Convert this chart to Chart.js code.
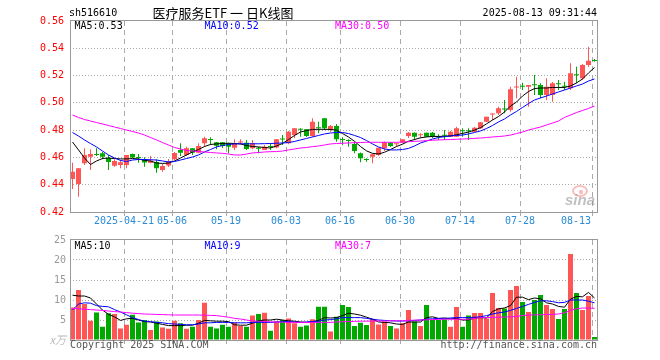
<!DOCTYPE html>
<html><head><meta charset="utf-8">
<script src="https://cdn.jsdelivr.net/npm/chart.js@4.4.0/dist/chart.umd.min.js"></script>
<style>
html,body{margin:0;padding:0;background:#fff;overflow:hidden;}
#wrap{position:relative;width:660px;height:360px;background:#fff;}
#p{position:absolute;left:0;top:0;}
#v{position:absolute;left:0;top:228px;}
</style></head><body>
<div id="wrap"><canvas id="p" width="660" height="235"></canvas><canvas id="v" width="660" height="132"></canvas></div>
<script>
// ---------- data ----------
const opens = [
.4442,.4405,.4557,.4605,.4621,.4630,.4596,.4539,.4545,.4545,
.4625,.4601,.4586,.4561,.4567,.4508,.4541,.4586,.4654,.4618,
.4667,.4635,.4704,.4731,.4711,.4711,.4704,.4671,.4709,.4708,
.4667,.4669,.4655,.4679,.4673,.4735,.4704,.4764,.4808,.4806,
.4757,.4819,.4887,.4806,.4830,.4731,.4724,.4698,.4630,.4583,
.4605,.4618,.4667,.4708,.4696,.4708,.4757,.4781,.4762,.4781,
.4781,.4755,.4764,.4752,.4752,.4796,.4796,.4789,.4813,.4862,
.4915,.4923,.4955,.4948,.5113,.5121,.5118,.5133,.5131,.5058,
.5058,.5140,.5121,.5107,.5206,.5180,.5278,.5311];
const highs = [
.4561,.4522,.4667,.4658,.4667,.4640,.4618,.4586,.4581,.4618,
.4628,.4625,.4601,.4610,.4586,.4552,.4588,.4640,.4704,.4679,
.4669,.4704,.4752,.4748,.4713,.4713,.4708,.4733,.4733,.4728,
.4728,.4679,.4691,.4704,.4735,.4764,.4794,.4816,.4813,.4808,
.4887,.4862,.4889,.4838,.4845,.4748,.4733,.4715,.4636,.4594,
.4625,.4671,.4717,.4713,.4708,.4735,.4786,.4782,.4777,.4782,
.4786,.4770,.4801,.4794,.4825,.4813,.4813,.4823,.4860,.4899,
.4923,.4972,.5021,.5118,.5192,.5148,.5131,.5204,.5143,.5180,
.5153,.5168,.5155,.5290,.5265,.5285,.5412,.5322];
const lows = [
.4369,.4312,.4545,.4508,.4610,.4586,.4508,.4532,.4520,.4520,
.4596,.4561,.4532,.4557,.4488,.4495,.4530,.4581,.4610,.4613,
.4618,.4630,.4679,.4691,.4660,.4669,.4630,.4655,.4696,.4655,
.4660,.4630,.4655,.4655,.4667,.4691,.4696,.4742,.4752,.4750,
.4752,.4777,.4801,.4789,.4715,.4691,.4679,.4630,.4564,.4569,
.4557,.4613,.4647,.4676,.4679,.4704,.4742,.4728,.4740,.4750,
.4742,.4728,.4728,.4750,.4750,.4752,.4728,.4786,.4808,.4860,
.4874,.4911,.4923,.4935,.5033,.5094,.4972,.5058,.5033,.5021,
.5009,.5094,.5094,.5094,.5143,.5168,.5265,.5302];
const closes = [
.4495,.4520,.4618,.4625,.4618,.4605,.4567,.4574,.4564,.4618,
.4600,.4596,.4563,.4576,.4520,.4537,.4570,.4632,.4635,.4667,
.4635,.4684,.4740,.4728,.4686,.4684,.4679,.4704,.4713,.4662,
.4704,.4664,.4679,.4676,.4733,.4731,.4789,.4813,.4803,.4757,
.4862,.4813,.4813,.4830,.4733,.4728,.4720,.4647,.4594,.4581,
.4623,.4671,.4711,.4684,.4698,.4733,.4781,.4752,.4764,.4752,
.4752,.4750,.4759,.4789,.4813,.4792,.4792,.4818,.4857,.4899,
.4918,.4960,.4951,.5100,.5116,.5118,.5131,.5129,.5058,.5118,
.5143,.5136,.5118,.5217,.5202,.5278,.5309,.5307];
const volumes = [
8.1,12.5,9.0,4.8,6.9,3.3,6.7,6.5,2.9,3.8,
6.3,4.4,5.0,2.5,4.6,3.1,2.8,4.8,4.2,2.8,
3.3,5.0,9.3,3.3,2.9,3.8,3.3,4.4,3.5,3.3,
6.1,6.5,6.8,2.3,4.6,5.0,5.4,4.2,3.3,3.6,
5.2,8.3,8.3,2.1,5.8,8.75,8.25,3.5,4.3,3.75,
5.25,3.9,4.6,3.5,2.9,4.2,7.5,4.6,3.5,8.75,
5.0,5.0,5.2,3.3,8.25,3.3,6.1,6.75,6.75,5.4,
11.75,8.0,7.9,12.5,13.5,9.5,7.0,10.0,11.25,8.75,
7.75,5.25,7.75,21.5,11.75,7.5,11.0,0.75];
const ma5 = [
.4713,.4655,.4596,.4548,.4574,.4592,.4596,.4592,.4589,.4589,
.4592,.4589,.4578,.4574,.4559,.4556,.4559,.4574,.4596,.4618,
.4640,.4658,.4680,.4695,.4699,.4702,.4704,.4702,.4699,.4687,
.4680,.4677,.4673,.4669,.4684,.4702,.4731,.4761,.4786,.4797,
.4805,.4806,.4806,.4805,.4800,.4775,.4750,.4718,.4680,.4648,
.4630,.4625,.4638,.4658,.4680,.4697,.4719,.4731,.4744,.4750,
.4754,.4754,.4755,.4758,.4766,.4776,.4786,.4800,.4818,.4846,
.4874,.4900,.4933,.4977,.5006,.5050,.5083,.5105,.5109,.5109,
.5113,.5113,.5113,.5124,.5146,.5175,.5219,.5259];
const ma10 = [
.4783,.4757,.4728,.4702,.4677,.4647,.4618,.4596,.4578,.4570,
.4581,.4585,.4585,.4583,.4581,.4574,.4567,.4570,.4581,.4592,
.4603,.4618,.4640,.4658,.4677,.4687,.4695,.4699,.4700,.4700,
.4700,.4700,.4701,.4702,.4704,.4706,.4709,.4717,.4728,.4739,
.4750,.4761,.4772,.4779,.4783,.4783,.4775,.4761,.4746,.4724,
.4699,.4677,.4662,.4655,.4655,.4658,.4666,.4684,.4706,.4720,
.4735,.4746,.4752,.4757,.4761,.4764,.4772,.4783,.4794,.4812,
.4834,.4860,.4882,.4911,.4937,.4966,.4995,.5021,.5036,.5050,
.5065,.5080,.5094,.5109,.5124,.5138,.5160,.5175];
const ma30 = [
.4911,.4893,.4878,.4867,.4856,.4845,.4834,.4823,.4812,.4801,
.4790,.4779,.4764,.4746,.4728,.4709,.4691,.4673,.4662,.4651,
.4647,.4643,.4640,.4636,.4633,.4630,.4625,.4618,.4618,.4625,
.4633,.4636,.4640,.4642,.4643,.4647,.4655,.4662,.4669,.4673,
.4679,.4684,.4691,.4699,.4702,.4704,.4706,.4708,.4709,.4711,
.4711,.4711,.4711,.4711,.4711,.4713,.4715,.4718,.4720,.4723,
.4726,.4728,.4730,.4731,.4733,.4735,.4737,.4740,.4742,.4746,
.4750,.4753,.4757,.4764,.4775,.4786,.4801,.4812,.4823,.4838,
.4852,.4867,.4893,.4911,.4929,.4944,.4959,.4977];
const volMa5 = [
11.2,11.0,11.0,10.5,9.0,7.5,6.4,5.8,4.9,5.3,
5.4,5.0,4.6,4.5,4.2,3.9,3.6,3.6,3.6,3.7,
3.7,4.2,4.9,4.8,4.7,4.7,4.6,3.8,3.7,3.7,
4.2,4.8,5.0,5.0,5.2,5.0,4.8,4.7,4.5,4.4,
4.6,4.9,5.6,5.5,5.6,6.1,6.7,6.5,6.2,5.7,
5.2,4.5,4.4,4.3,4.0,3.9,4.5,4.5,4.5,5.6,
5.8,5.4,5.5,5.3,5.4,5.0,5.0,5.5,5.6,5.5,
7.1,7.8,8.0,8.6,10.7,10.7,10.1,10.5,10.3,9.3,
9.0,8.4,8.2,10.2,10.9,10.8,11.9,10.5];
const volMa10 = [
7.5,9.0,9.3,9.2,8.6,8.4,8.3,7.6,7.0,6.3,
5.6,5.1,4.7,4.6,4.4,4.3,4.1,4.0,3.9,3.8,
3.8,4.0,4.3,4.3,4.4,4.4,4.4,4.3,4.3,4.3,
4.4,4.4,4.4,4.4,4.5,4.6,4.6,4.5,4.4,4.5,
4.6,4.7,5.0,5.1,5.3,5.6,5.6,5.6,5.6,5.4,
5.2,5.0,4.9,4.8,4.75,4.75,4.8,4.9,5.0,5.2,
5.3,5.4,5.4,5.5,5.6,5.6,5.6,5.7,5.8,6.1,
6.5,6.8,7.0,7.4,7.9,8.4,8.9,9.4,9.8,9.8,
9.6,9.3,9.4,10.0,10.0,10.0,9.7,9.3];
const volMa30 = [
7.9,7.8,7.7,7.6,7.5,7.4,7.25,7.1,7.0,6.85,
6.7,6.6,6.5,6.45,6.4,6.35,6.3,6.25,6.25,6.25,
6.25,6.25,6.2,6.15,6.1,5.9,5.7,5.4,5.25,5.0,
4.75,4.7,4.6,4.55,4.5,4.45,4.4,4.4,4.4,4.4,
4.4,4.4,4.4,4.4,4.5,4.6,4.6,4.65,4.7,4.7,
4.75,4.75,4.75,4.8,4.8,4.8,4.9,4.95,5.0,5.05,
5.1,5.15,5.2,5.2,5.2,5.2,5.2,5.4,5.6,5.6,
5.65,5.7,5.75,5.8,5.9,6.1,6.25,6.3,6.3,6.35,
6.4,6.5,6.8,7.4,7.8,8.0,8.0,7.9];
const xTickIndex = [9,17,26,36,45,55,65,75,87];
const xTickLabels = ['2025-04-21','05-06','05-19','06-03','06-16','06-30','07-14','07-28','08-13'];
const priceTicks = [0.42,0.44,0.46,0.48,0.50,0.52,0.54,0.56];
const volTicks = [0,5,10,15,20,25];
const codeText = 'sh516610';
const titleText = '医疗服务ETF 一 日K线图';
const stampText = '2025-08-13 09:31:44';
const unitText = 'x万';
const copyText = 'Copyright 2025 SINA.COM';
const urlText = 'http://finance.sina.com.cn';

// ---------- style ----------
const MONO = "'DejaVu Sans Mono', monospace";
const UP = '#ff5555', DOWN = '#00a800';
const C5 = '#000000', C10 = '#0000ff', C30 = '#ff00ff';
const GRID = '#aaaaaa', FRAME = '#999999';
const SHIFT = 2.5/6;           // grid line sits at slot left edge
const X_MIN = -SHIFT, X_MAX = 87.5;

const dir = closes.map((c,i)=> c>opens[i] ? 1 : (c<opens[i] ? -1 : (i>0 && c<closes[i-1] ? -1 : 1)));
const colors = dir.map(d => d>0 ? UP : DOWN);
const pts = arr => arr.map((v,i)=>({x:i, y:v}));

function xAxis(h){
  return {
    type:'linear', min:X_MIN, max:X_MAX, offset:false,
    grid:{offset:false, color:GRID, lineWidth:1, drawTicks:true, tickLength:4},
    border:{display:false, dash:[5,4]},
    ticks:{display:false},
    afterBuildTicks: s => { s.ticks = xTickIndex.map(v => ({value: v - SHIFT})); },
    afterFit: s => { s.height = h; }
  };
}
function lineDs(arr, color){
  return {type:'line', data:pts(arr), borderColor:color, borderWidth:1, pointRadius:0, tension:0, fill:false, order:0};
}
function frame(ctx, ca){
  ctx.save();
  ctx.strokeStyle = FRAME; ctx.lineWidth = 1; ctx.setLineDash([]);
  const l = Math.floor(ca.left)+0.5, r = Math.floor(ca.right)+0.5;
  const t = Math.floor(ca.top)-0.5, b = Math.floor(ca.bottom)+0.5;
  ctx.strokeRect(l, t, r-l, b-t);
  ctx.restore();
}
function txt(ctx, s, x, y, color, align, font){
  ctx.font = font || ('10px ' + MONO);
  ctx.fillStyle = color; ctx.textAlign = align || 'left'; ctx.textBaseline = 'middle';
  ctx.fillText(s, x, y);
}

// ---------- price chart ----------
const pricePlugin = {
  id:'priceDeco',
  beforeDatasetsDraw(chart){
    const ctx = chart.ctx;
    ctx.save();
    // sina watermark
    ctx.strokeStyle = 'rgba(240,110,110,0.45)'; ctx.lineWidth = 2;
    ctx.beginPath(); ctx.ellipse(580, 191, 7, 5, 0, 0, Math.PI*2); ctx.stroke();
    ctx.fillStyle = 'rgba(240,110,110,0.45)';
    ctx.beginPath(); ctx.arc(581, 192, 2.2, 0, Math.PI*2); ctx.fill();
    ctx.font = "italic bold 15px 'Liberation Sans', sans-serif";
    ctx.fillStyle = 'rgba(140,140,140,0.55)'; ctx.textAlign='left'; ctx.textBaseline='alphabetic';
    ctx.fillText('sina', 565, 205);
    ctx.restore();
  },
  afterDraw(chart){
    const ctx = chart.ctx, ca = chart.chartArea, xs = chart.scales.x;
    frame(ctx, ca);
    ctx.save();
    txt(ctx, codeText, 69, 13, '#000');
    txt(ctx, titleText, 223, 13, '#000', 'center', "13px 'Noto Sans CJK SC', sans-serif");
    txt(ctx, stampText, 597, 13, '#000', 'right');
    txt(ctx, 'MA5:' + ma5[ma5.length-1].toFixed(2), 74.5, 26, C5);
    txt(ctx, 'MA10:' + ma10[ma10.length-1].toFixed(2), 204.5, 26, C10);
    txt(ctx, 'MA30:' + ma30[ma30.length-1].toFixed(2), 335, 26, C30);
    ctx.font = '10px ' + MONO;
    xTickIndex.forEach((idx,k) => {
      let px = xs.getPixelForValue(idx - SHIFT);
      const w = ctx.measureText(xTickLabels[k]).width;
      if (px + w/2 > 591) px = 591 - w/2;
      txt(ctx, xTickLabels[k], px, 221, '#2a8bd6', 'center');
    });
    ctx.restore();
  }
};

new Chart(document.getElementById('p'), {
  type:'bar',
  data:{datasets:[
    lineDs(ma30, C30), lineDs(ma10, C10), lineDs(ma5, C5),
    {type:'bar', data: highs.map((h,i)=>({x:i, y:[lows[i], h]})), backgroundColor:colors,
     barThickness:1, grouped:false, inflateAmount:0, borderWidth:0, order:2},
    {type:'bar', data: opens.map((o,i)=>({x:i, y:[Math.min(o,closes[i]), Math.max(o,closes[i])]})), backgroundColor:colors,
     barThickness:5, grouped:false, inflateAmount:0, borderWidth:0, minBarLength:1, order:1}
  ]},
  options:{
    responsive:false, animation:false, devicePixelRatio:1, events:[],
    layout:{padding:{top:21, right:62.5, left:0, bottom:0}},
    plugins:{legend:{display:false}, tooltip:{enabled:false}},
    scales:{
      x: xAxis(23),
      y: {type:'linear', position:'left', min:0.42, max:0.56,
          afterBuildTicks: s => { s.ticks = priceTicks.map(v => ({value:v})); },
          afterFit: s => { s.width = 70; },
          grid:{drawTicks:false, lineWidth:1,
                color: c => (c.index===0 || c.index===priceTicks.length-1) ? 'rgba(0,0,0,0)' : GRID},
          border:{display:false, dash:[1,2]},
          ticks:{color:'#ff0000', font:{family:MONO, size:10}, padding:6, autoSkip:false,
                 callback: v => Number(v).toFixed(2)}}
    }
  },
  plugins:[pricePlugin]
});

// ---------- volume chart ----------
const OFF = 228;
const volPlugin = {
  id:'volDeco',
  afterDraw(chart){
    const ctx = chart.ctx, ca = chart.chartArea;
    frame(ctx, ca);
    ctx.save();
    txt(ctx, 'MA5:' + Math.floor(volMa5[volMa5.length-1]), 74.5, 246.7-OFF, C5);
    txt(ctx, 'MA10:' + Math.floor(volMa10[volMa10.length-1]), 204.5, 246.7-OFF, C10);
    txt(ctx, 'MA30:' + Math.floor(volMa30[volMa30.length-1]), 335, 246.7-OFF, C30);
    txt(ctx, unitText, 66, 340-OFF, '#bbbbbb', 'right', "italic 11px 'Noto Sans CJK SC', sans-serif");
    txt(ctx, copyText, 70, 345.5-OFF, '#555555', 'left');
    txt(ctx, urlText, 597, 345.5-OFF, '#555555', 'right');
    ctx.restore();
  }
};

new Chart(document.getElementById('v'), {
  type:'bar',
  data:{datasets:[
    lineDs(volMa30, C30), lineDs(volMa10, C10), lineDs(volMa5, C5),
    {type:'bar', data: pts(volumes), backgroundColor:colors, barThickness:5, grouped:false,
     inflateAmount:0, borderWidth:0, order:1}
  ]},
  options:{
    responsive:false, animation:false, devicePixelRatio:1, events:[],
    layout:{padding:{top:12, right:62.5, left:0, bottom:0}},
    plugins:{legend:{display:false}, tooltip:{enabled:false}},
    scales:{
      x: xAxis(20),
      y: {type:'linear', position:'left', min:0, max:25,
          afterBuildTicks: s => { s.ticks = volTicks.map(v => ({value:v})); },
          afterFit: s => { s.width = 70; },
          grid:{drawTicks:false, lineWidth:1,
                color: c => (c.index===0 || c.index===volTicks.length-1) ? 'rgba(0,0,0,0)' : GRID},
          border:{display:false, dash:[1,2]},
          ticks:{color:'#999999', font:{family:MONO, size:10}, padding:4, autoSkip:false,
                 callback: v => v===0 ? '' : String(v)}}
    }
  },
  plugins:[volPlugin]
});
</script>
</body></html>
